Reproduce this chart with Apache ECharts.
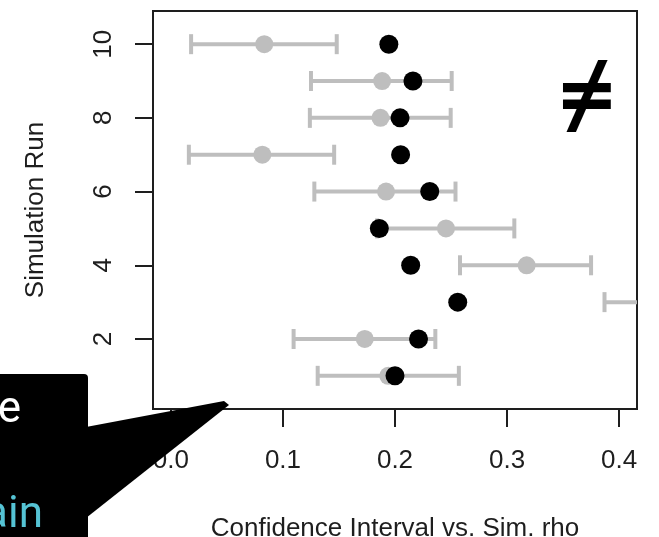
<!DOCTYPE html>
<html><head><meta charset="utf-8">
<script src="https://cdn.jsdelivr.net/npm/echarts@6/dist/echarts.min.js"></script>
<style>html,body{margin:0;padding:0;background:#fff}#c{width:659px;height:537px}</style>
</head><body><div id="c"></div>
<script>
const runs   = [1, 2, 3, 4, 5, 6, 7, 8, 9, 10];
const simRho = [0.200, 0.221, 0.256, 0.214, 0.186, 0.231, 0.205, 0.2045, 0.216, 0.1945];
const ciLow  = [0.131, 0.1095, 0.387, 0.258, 0.184, 0.128, 0.016, 0.124, 0.125, 0.018];
const ciMid  = [0.194, 0.173, 0.451, 0.3175, 0.2455, 0.192, 0.0816, 0.187, 0.1885, 0.0833];
const ciHigh = [0.257, 0.236, 0.515, 0.375, 0.3065, 0.254, 0.1457, 0.2497, 0.2506, 0.148];
const xTicks = [0, 0.1, 0.2, 0.3, 0.4];
const yTicks = [2, 4, 6, 8, 10];
const xTitle = 'Confidence Interval vs. Sim. rho';
const yTitle = 'Simulation Run';

const GREY = '#bebebe';
const INK = '#1e1e1e';
const FONT = 'Liberation Sans, Arial, sans-serif';

const chart = echarts.init(document.getElementById('c'), null, {renderer: 'canvas'});

const ciData = runs.map((r, i) => [r, ciLow[i], ciMid[i], ciHigh[i]]);
const ptData = runs.map((r, i) => [simRho[i], r]);

chart.setOption({
  animation: false,
  backgroundColor: '#fff',
  grid: {left: 153, top: 11, width: 484, height: 398, show: true, borderColor: INK, borderWidth: 2,
         backgroundColor: 'transparent', outerBoundsMode: 'none', containLabel: false},
  xAxis: {
    type: 'value', min: -0.016, max: 0.416,
    axisLine: {show: true, onZero: false, lineStyle: {color: INK, width: 2}},
    splitLine: {show: false},
    axisTick: {show: true, inside: false, length: 18, customValues: xTicks, lineStyle: {color: INK, width: 2}},
    axisLabel: {customValues: xTicks, formatter: v => v.toFixed(1), fontSize: 26, color: INK, fontFamily: FONT, margin: 39, showMinLabel: true, showMaxLabel: true},
    name: xTitle, nameLocation: 'middle', nameGap: 107, nameMoveOverlap: false,
    nameTextStyle: {fontSize: 26, color: INK, fontFamily: FONT, verticalAlign: 'top'}
  },
  yAxis: {
    type: 'value', min: 0.1, max: 10.9,
    axisLine: {show: true, onZero: false, lineStyle: {color: INK, width: 2}},
    splitLine: {show: false},
    axisTick: {show: true, inside: false, length: 18, customValues: yTicks, lineStyle: {color: INK, width: 2}},
    axisLabel: {customValues: yTicks, rotate: 90, fontSize: 26, color: INK, fontFamily: FONT, margin: 36},
    name: yTitle, nameLocation: 'middle', nameGap: 104, nameMoveOverlap: false, nameRotate: 90,
    nameTextStyle: {fontSize: 26, color: INK, fontFamily: FONT}
  },
  series: [
    {
      type: 'custom',
      data: ciData,
      encode: {x: [1, 2, 3], y: 0},
      z: 2,
      renderItem: function (params, api) {
        const cs = params.coordSys;
        const xmin = cs.x, xmax = cs.x + cs.width;
        const pL = api.coord([api.value(1), api.value(0)]);
        const pM = api.coord([api.value(2), api.value(0)]);
        const pH = api.coord([api.value(3), api.value(0)]);
        const cl = v => Math.max(xmin, Math.min(xmax, v));
        const inside = p => p[0] >= xmin && p[0] <= xmax;
        const st = {stroke: GREY, lineWidth: 4};
        const children = [{type: 'line', shape: {x1: cl(pL[0]), y1: pL[1], x2: cl(pH[0]), y2: pH[1]}, style: st}];
        [pL, pH].forEach(p => {
          if (inside(p)) children.push({type: 'line', shape: {x1: p[0], y1: p[1] - 10, x2: p[0], y2: p[1] + 10}, style: st});
        });
        if (inside(pM)) children.push({type: 'circle', shape: {cx: pM[0], cy: pM[1], r: 9}, style: {fill: GREY}});
        return {type: 'group', children: children};
      }
    },
    {
      type: 'scatter',
      data: ptData,
      symbol: 'circle',
      symbolSize: 19,
      itemStyle: {color: '#000', opacity: 1},
      z: 3
    }
  ],
  graphic: [
    {
      type: 'text', x: 587, y: 102, z: 10, scaleX: 1.12,
      style: {text: '≠', fontSize: 88, fontWeight: 'bold', fontFamily: 'Noto Sans', fill: '#000', align: 'center', verticalAlign: 'middle'}
    },
    {
      type: 'group', z: 20, silent: true,
      children: [
        {type: 'rect', shape: {x: -10, y: 374, width: 98, height: 180, r: [0, 4, 0, 0]}, style: {fill: '#000'}, z: 20},
        {type: 'polygon', shape: {points: [[86, 427], [224, 401], [229, 405], [86, 518]]}, style: {fill: '#000'}, z: 20},
        {type: 'text', x: 21, y: 411, z: 21, style: {text: 'e', fontSize: 44, fontFamily: 'Roboto, sans-serif', fill: '#fff', align: 'right', verticalAlign: 'middle'}},
        {type: 'text', x: 43, y: 516, z: 21, style: {text: 'ain', fontSize: 44, fontFamily: 'Roboto, sans-serif', fill: '#55c3d4', align: 'right', verticalAlign: 'middle'}}
      ]
    }
  ]
});
</script>
</body></html>
